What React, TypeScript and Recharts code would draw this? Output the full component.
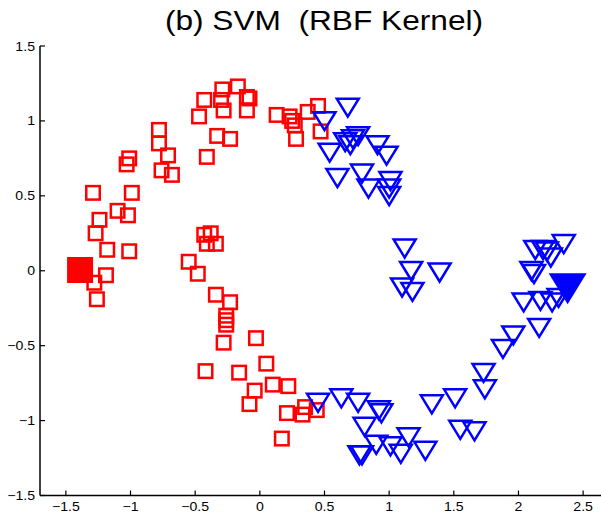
import { ScatterChart, Scatter, XAxis, YAxis } from 'recharts';

const redSquares: [number, number][] = [
  [-1.29, 0.52], [-1.01, 0.75], [-1.03, 0.71], [-0.99, 0.52], [-0.78, 0.94],
  [-0.78, 0.85], [-0.71, 0.77], [-0.76, 0.67], [-0.68, 0.64], [-1.1, 0.4],
  [-1.02, 0.37], [-1.24, 0.34], [-1.27, 0.25], [-1.18, 0.14], [-1.01, 0.13],
  [-1.19, -0.03], [-1.28, -0.08], [-1.26, -0.19],
  [-0.47, 1.03], [-0.43, 1.14], [-0.29, 1.21], [-0.17, 1.23], [-0.1, 1.16],
  [-0.08, 1.15], [-0.3, 1.14], [-0.28, 1.07], [-0.1, 1.07], [-0.33, 0.9],
  [-0.23, 0.88], [-0.41, 0.76], [0.13, 1.04], [0.23, 1.03], [0.25, 1.0],
  [0.27, 0.97], [0.37, 1.06], [0.45, 1.1], [0.28, 0.88], [0.47, 0.93],
  [-0.43, 0.24], [-0.38, 0.25], [-0.41, 0.18], [-0.34, 0.18], [-0.55, 0.06],
  [-0.48, -0.02], [-0.34, -0.16], [-0.23, -0.21], [-0.26, -0.3], [-0.26, -0.33],
  [-0.26, -0.36], [-0.28, -0.48], [-0.03, -0.45], [-0.42, -0.67], [-0.16, -0.68],
  [0.05, -0.62], [-0.04, -0.8], [0.1, -0.76], [0.22, -0.77], [-0.08, -0.89],
  [0.21, -0.95], [0.33, -0.96], [0.35, -0.91], [0.44, -0.93], [0.17, -1.12],
];

const blueTriangles: [number, number][] = [
  [0.68, 1.09], [0.5, 1.0], [0.54, 0.79], [0.6, 0.62], [0.72, 0.88],
  [0.7, 0.84], [0.66, 0.86], [0.76, 0.9], [0.79, 0.65], [0.91, 0.84],
  [0.98, 0.77], [0.84, 0.55], [1.01, 0.6], [1.0, 0.55], [1.0, 0.5],
  [1.12, 0.15], [1.17, 0.0], [1.39, -0.01], [1.1, -0.11], [1.18, -0.14],
  [2.35, 0.18], [2.13, 0.14], [2.19, 0.14], [2.22, 0.13], [2.25, 0.09],
  [2.1, 0.0], [2.12, -0.02], [2.04, -0.21], [2.17, -0.2], [2.26, -0.21],
  [2.31, -0.18], [2.16, -0.38], [1.96, -0.43], [1.88, -0.52], [1.73, -0.68],
  [1.74, -0.79], [1.51, -0.85], [1.33, -0.89], [1.55, -1.06], [1.66, -1.07],
  [0.45, -0.88], [0.63, -0.85], [0.76, -0.88], [0.92, -0.93], [0.94, -0.95],
  [0.81, -1.04], [0.9, -1.16], [0.77, -1.23], [0.79, -1.23], [1.01, -1.17],
  [1.09, -1.22], [1.15, -1.11], [1.28, -1.2],
];

const redCenter: [number, number][] = [[-1.39, 0.005]];
const blueCenter: [number, number][] = [[2.38, -0.12]];

const xTicks = [-1.5, -1, -0.5, 0, 0.5, 1, 1.5, 2, 2.5];
const yTicks = [-1.5, -1, -0.5, 0, 0.5, 1, 1.5];
const title = '(b) SVM  (RBF Kernel)';

const RED = '#ff0000';
const BLUE = '#0000ff';
const FONT = '"Liberation Sans", Arial, Helvetica, sans-serif';

const toPoints = (pairs: [number, number][]) => pairs.map(([x, y]) => ({ x, y }));
const fmt = (v: number) => String(v).replace('-', '\u2212');

const XTick = ({ x, y, payload }: any) => (
  <text transform={`translate(${x},${y + 9}) scale(1.13,1)`} textAnchor="middle" fontSize={12.5} fontFamily={FONT} fill="#000">
    {fmt(payload.value)}
  </text>
);

const YTick = ({ x, y, payload }: any) => (
  <text transform={`translate(${x},${y + 4.5}) scale(1.13,1)`} textAnchor="end" fontSize={12.5} fontFamily={FONT} fill="#000">
    {fmt(payload.value)}
  </text>
);

const NoTick = () => <g />;

const OpenSquare = ({ cx, cy }: any) => (
  <rect x={cx - 6.75} y={cy - 6.75} width={13.5} height={13.5} fill="none" stroke={RED} strokeWidth={2.5} />
);

const FilledSquare = ({ cx, cy }: any) => (
  <rect x={cx - 13} y={cy - 13} width={26} height={26} fill={RED} />
);

const OpenTriangle = ({ cx, cy }: any) => (
  <path
    d={`M${cx - 11},${cy - 8.75}L${cx + 11},${cy - 8.75}L${cx},${cy + 9.25}Z`}
    fill="none"
    stroke={BLUE}
    strokeWidth={2.5}
  />
);

const FilledTriangle = ({ cx, cy }: any) => (
  <path d={`M${cx - 19},${cy - 15.5}L${cx + 19},${cy - 15.5}L${cx},${cy + 15.5}Z`} fill={BLUE} />
);

export default function App() {
  return (
    <div style={{ position: 'absolute', left: 0, top: 0, width: 601, height: 513, overflow: 'hidden', background: '#fff' }}>
      <div
        style={{
          position: 'absolute',
          left: 0,
          width: 648,
          top: 4,
          textAlign: 'center',
          whiteSpace: 'pre',
          fontFamily: FONT,
          fontSize: 28,
          lineHeight: '34px',
          color: '#000',
          transform: 'scaleX(1.13)',
          transformOrigin: '324px 0',
        }}
      >
        {title}
      </div>
      <ScatterChart width={609} height={513} margin={{ top: 46, right: 0, bottom: 0, left: 0 }}>
        <XAxis
          xAxisId={0}
          type="number"
          dataKey="x"
          domain={[-1.7, 2.7]}
          ticks={xTicks}
          interval={0}
          allowDataOverflow
          height={17.5}
          tickSize={-5}
          tickMargin={11.5}
          tick={<XTick />}
          axisLine={{ stroke: '#000', strokeWidth: 1.5 }}
          tickLine={{ stroke: '#000', strokeWidth: 1.2 }}
        />
        <XAxis
          xAxisId="top"
          orientation="top"
          type="number"
          dataKey="x"
          domain={[-1.7, 2.7]}
          ticks={xTicks}
          interval={0}
          allowDataOverflow
          height={0}
          tickSize={-5}
          tick={<NoTick />}
          axisLine={{ stroke: '#000', strokeWidth: 1.5 }}
          tickLine={{ stroke: '#000', strokeWidth: 1.2 }}
        />
        <YAxis
          type="number"
          dataKey="y"
          domain={[-1.5, 1.5]}
          ticks={yTicks}
          interval={0}
          allowDataOverflow
          width={40}
          tickSize={-5}
          tickMargin={10}
          tick={<YTick />}
          axisLine={{ stroke: '#000', strokeWidth: 1.5 }}
          tickLine={{ stroke: '#000', strokeWidth: 1.2 }}
        />
        <Scatter data={toPoints(redSquares)} shape={<OpenSquare />} isAnimationActive={false} />
        <Scatter data={toPoints(blueTriangles)} shape={<OpenTriangle />} isAnimationActive={false} />
        <Scatter data={toPoints(redCenter)} shape={<FilledSquare />} isAnimationActive={false} />
        <Scatter data={toPoints(blueCenter)} shape={<FilledTriangle />} isAnimationActive={false} />
      </ScatterChart>
    </div>
  );
}
